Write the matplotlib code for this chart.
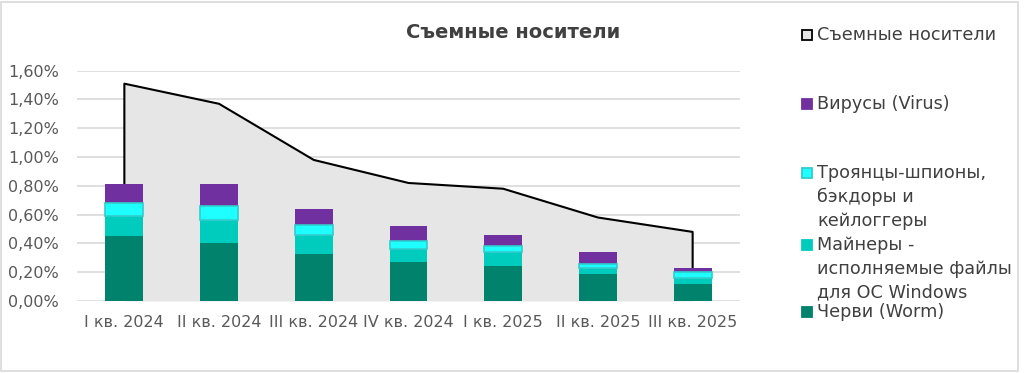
import matplotlib
matplotlib.use("Agg")
import matplotlib.pyplot as plt
from matplotlib.patches import Rectangle
import numpy as np

plt.rcParams.update({"font.family": "DejaVu Sans"})
GREY = "#595959"

quarters = ["I кв. 2024", "II кв. 2024", "III кв. 2024", "IV кв. 2024",
            "I кв. 2025", "II кв. 2025", "III кв. 2025"]
removable = [1.51, 1.37, 0.98, 0.82, 0.78, 0.58, 0.48]
worm = [0.45, 0.40, 0.33, 0.27, 0.24, 0.19, 0.12]
miners = [0.14, 0.16, 0.13, 0.09, 0.10, 0.04, 0.04]
trojans = [0.09, 0.10, 0.07, 0.06, 0.04, 0.03, 0.04]
virus = [0.13, 0.15, 0.11, 0.10, 0.08, 0.08, 0.03]

lab_area = "Съемные носители"
lab_virus = "Вирусы (Virus)"
lab_troj = "Троянцы-шпионы,\nбэкдоры и\nкейлоггеры"
lab_min = "Майнеры -\nисполняемые файлы\nдля ОС Windows"
lab_worm = "Черви (Worm)"

C_WORM = "#00826d"; C_MIN = "#00ccbe"; C_TROJ = "#1effff"; C_TROJE = "#33cccc"; C_VIR = "#7030a0"

fig = plt.figure(figsize=(10.24, 3.73), dpi=100)
ax = fig.add_axes([77/1024, 1-301/373, 663/1024, 230.3/373])
x = np.arange(len(quarters))

ax.fill_between(x, removable, 0, color="#e6e6e6", lw=0, zorder=1)
lx = np.concatenate([[x[0]], x, [x[-1]]])
ly = np.concatenate([[0], removable, [0]])
ax.plot(lx, ly, color="black", lw=1.5, zorder=2)

w = 0.4
b = np.zeros(len(x))
ax.bar(x, worm, w, bottom=b, color=C_WORM, zorder=3); b += worm
ax.bar(x, miners, w, bottom=b, color=C_MIN, zorder=3); b += miners
ax.bar(x, trojans, w, bottom=b, color=C_TROJ, edgecolor=C_TROJE, lw=1.2, zorder=4); b += trojans
ax.bar(x, virus, w, bottom=b, color=C_VIR, zorder=3)

ax.set_xlim(-0.5, len(x) - 0.5)
ax.set_ylim(0, 1.6)
ax.set_yticks(np.arange(0, 1.61, 0.2))
ax.set_yticklabels([f"{v:.2f}%".replace(".", ",") for v in np.arange(0, 1.61, 0.2)])
ax.set_xticks(x)
ax.set_xticklabels(quarters)
ax.tick_params(length=0, labelsize=11.5, colors=GREY)
ax.tick_params(axis="y", pad=13)
ax.tick_params(axis="x", pad=10)
ax.grid(axis="y", color="#d9d9d9", lw=1.2, zorder=0)
ax.set_axisbelow(True)
for s in ax.spines.values():
    s.set_visible(False)

fig.text(513/1024, 1-32/373, "Съемные носители", ha="center", va="center",
         fontsize=14, fontweight="bold", color="#404040")

# legend
items = [(lab_area, "#e6e6e6", "black", 35), (lab_virus, C_VIR, C_VIR, 104),
         (lab_troj, C_TROJ, C_TROJE, 173), (lab_min, C_MIN, C_MIN, 245),
         (lab_worm, C_WORM, C_WORM, 312)]
for lab, fc, ec, yy in items:
    fig.patches.append(Rectangle((802/1024, 1-(yy+5)/373), 10/1024, 10/373, fc=fc, ec=ec,
                                 lw=1.3, transform=fig.transFigure, figure=fig))
    fig.text(817/1024, 1-(yy-9)/373, lab, ha="left", va="top", fontsize=12.7,
             color="#404040", linespacing=1.42)

fig.patches.append(Rectangle((1/1024, 2/373), 1017/1024, 369/373, fill=False, ec="#d9d9d9",
                             lw=1.2, transform=fig.transFigure, figure=fig))
fig.savefig("out.png", dpi=100, facecolor="white")
